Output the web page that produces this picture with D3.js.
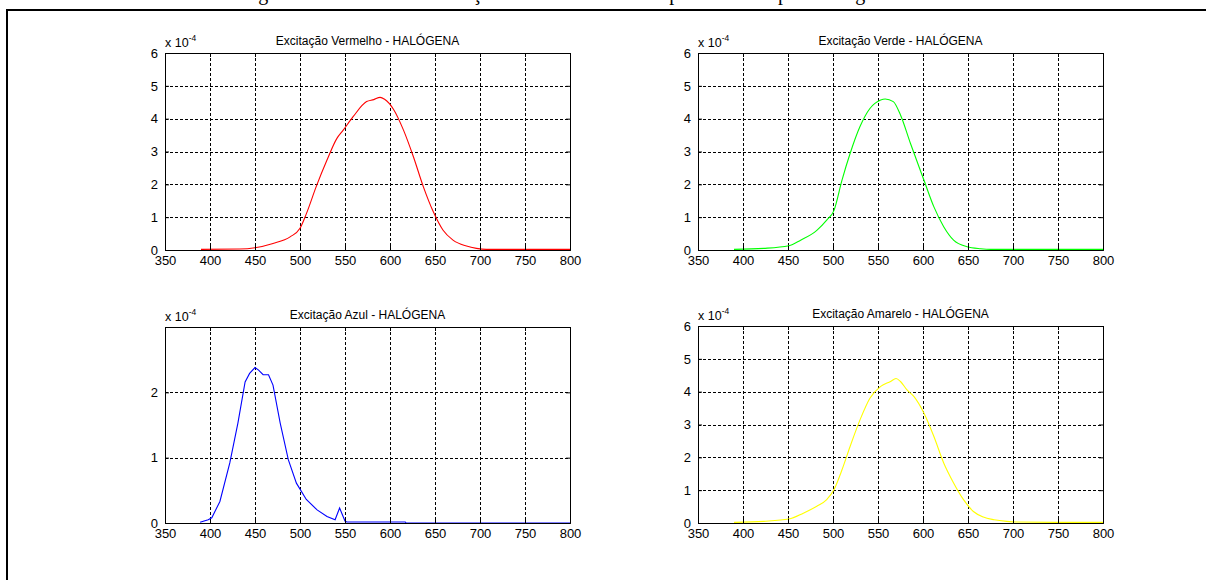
<!DOCTYPE html>
<html><head><meta charset="utf-8">
<script src="https://cdn.jsdelivr.net/npm/d3@7"></script>
<style>
html,body{margin:0;padding:0;background:#fff;}
svg{display:block;}
</style></head>
<body>
<svg id="chart" width="1206" height="580"></svg>
<script>
// ---- data (values in units of 1e-4) ----
const xTicks = [350,400,450,500,550,600,650,700,750,800];
const yTicks6 = [0,1,2,3,4,5,6];
const yTicksBlue = [0,1,2];

const titles = ["Excitação Vermelho - HALÓGENA","Excitação Verde - HALÓGENA","Excitação Azul - HALÓGENA","Excitação Amarelo - HALÓGENA"];
const caption = "Figura 4.8 – Curva de Excitação das amostras com espectro da lâmpada halógena";

const redWl  = [390,433,450,470,489,500,507,518,530,541,548,559,574,582,589,594,604,615,626,637,648,659,670,685,696,707,750,800];
const redVal = [0.02,0.03,0.07,0.2,0.4,0.66,1.1,1.93,2.74,3.4,3.65,4.06,4.52,4.58,4.65,4.59,4.28,3.65,2.84,1.93,1.17,0.6,0.3,0.12,0.05,0.02,0.02,0.02];

const greenWl  = [390,423,451,464,482,493,501,510,519,530,541,553,558,567,575,586,601,612,623,634,649,664,675,750,800];
const greenVal = [0.02,0.05,0.13,0.3,0.6,0.91,1.2,2.13,2.94,3.76,4.31,4.57,4.6,4.52,4.11,3.25,2.13,1.32,0.71,0.3,0.1,0.04,0.02,0.02,0.02];

const blueWl  = [389,398,402,411,422,431,439,444,450,454,459,465,470,478,487,496,507,519,530,539,544,550,552,617,618,800];
const blueVal = [0.01,0.05,0.08,0.33,0.92,1.53,2.16,2.29,2.38,2.34,2.27,2.27,2.11,1.53,0.97,0.61,0.36,0.2,0.1,0.05,0.23,0.03,0.015,0.015,0,0];

const yellowWl  = [390,423,451,467,482,493,501,510,519,530,541,553,564,570,575,582,590,601,612,623,634,645,656,667,679,693,704,750,800];
const yellowVal = [0.02,0.05,0.12,0.3,0.51,0.71,1.01,1.62,2.33,3.14,3.8,4.16,4.31,4.4,4.31,4.06,3.85,3.35,2.64,1.83,1.22,0.71,0.35,0.18,0.1,0.05,0.03,0.02,0.02];

// ---- layout ----
const svg = d3.select("#chart");
const panels = [
  {x0:165, x1:570, y0:53,  y1:250, ymax:6,    yt:yTicks6,    wl:redWl,    v:redVal,    color:"#ff0000", title:titles[0], curve:d3.curveMonotoneX},
  {x0:698, x1:1103,y0:53,  y1:250, ymax:6,    yt:yTicks6,    wl:greenWl,  v:greenVal,  color:"#00ff00", title:titles[1], curve:d3.curveMonotoneX},
  {x0:165, x1:570, y0:327, y1:523, ymax:3.0,  yt:yTicksBlue, wl:blueWl,   v:blueVal,   color:"#0000ff", title:titles[2], curve:d3.curveLinear},
  {x0:698, x1:1103,y0:326, y1:523, ymax:6,    yt:yTicks6,    wl:yellowWl, v:yellowVal, color:"#ffff00", title:titles[3], curve:d3.curveMonotoneX}
];

// caption (clipped at top, as in the reference) and frame
svg.append("text").attr("x",241.5).attr("y",0)
  .attr("font-family","'Liberation Serif','Times New Roman',serif").attr("font-size",20)
  .attr("fill","#000").text(caption);
svg.append("path").attr("d","M7,580V10H1206").attr("fill","none").attr("stroke","#000").attr("stroke-width",2);

const font = "'Liberation Sans',Arial,sans-serif";

panels.forEach(p => {
  const x = d3.scaleLinear().domain([350,800]).range([p.x0,p.x1]);
  const y = d3.scaleLinear().domain([0,p.ymax]).range([p.y1,p.y0]);
  const g = svg.append("g");

  // grid
  g.selectAll(".gx").data(xTicks.slice(1,-1)).join("line")
    .attr("x1",d=>Math.round(x(d))+0.5).attr("x2",d=>Math.round(x(d))+0.5)
    .attr("y1",p.y0).attr("y2",p.y1)
    .attr("stroke","#000").attr("stroke-width",1).attr("stroke-dasharray","3,2");
  g.selectAll(".gy").data(p.yt.filter(d=>d>0 && d<p.ymax)).join("line")
    .attr("y1",d=>Math.round(y(d))+0.5).attr("y2",d=>Math.round(y(d))+0.5)
    .attr("x1",p.x0).attr("x2",p.x1)
    .attr("stroke","#000").attr("stroke-width",1).attr("stroke-dasharray","3,2");

  // data line
  const line = d3.line().x((d,i)=>x(p.wl[i])).y(d=>y(d)).curve(p.curve);
  g.append("path").attr("d",line(p.v)).attr("fill","none")
    .attr("stroke",p.color).attr("stroke-width",1.1);

  // axes via d3 axis
  const xb = d3.axisBottom(x).tickValues(xTicks).tickSize(-4).tickPadding(6).tickFormat(d3.format("d"));
  const xt = d3.axisTop(x).tickValues(xTicks).tickSize(-4).tickFormat("");
  const yl = d3.axisLeft(y).tickValues(p.yt).tickSize(-4).tickPadding(7).tickFormat(d3.format("d"));
  const yr = d3.axisRight(y).tickValues(p.yt).tickSize(-4).tickFormat("");
  const ax = [
    g.append("g").attr("transform",`translate(0,${p.y1})`).call(xb),
    g.append("g").attr("transform",`translate(0,${p.y0})`).call(xt),
    g.append("g").attr("transform",`translate(${p.x0},0)`).call(yl),
    g.append("g").attr("transform",`translate(${p.x1},0)`).call(yr)
  ];
  ax.forEach(a => {
    a.select(".domain").attr("stroke","#000").attr("stroke-width",1);
    a.selectAll(".tick line").attr("stroke","#000");
    a.selectAll("text").attr("font-family",font).attr("font-size",13).attr("fill","#000");
  });

  // title
  svg.append("text").attr("x",(p.x0+p.x1)/2).attr("y",p.y0-8)
    .attr("text-anchor","middle").attr("font-family",font).attr("font-size",12)
    .attr("fill","#000").text(p.title);
  // exponent
  const ex = svg.append("text").attr("x",p.x0).attr("y",p.y0-6)
    .attr("font-family",font).attr("font-size",12.5).attr("fill","#000");
  ex.append("tspan").text("x 10");
  ex.append("tspan").attr("dy",-6).attr("font-size",8.5).text("-4");
});
</script>
</body></html>
